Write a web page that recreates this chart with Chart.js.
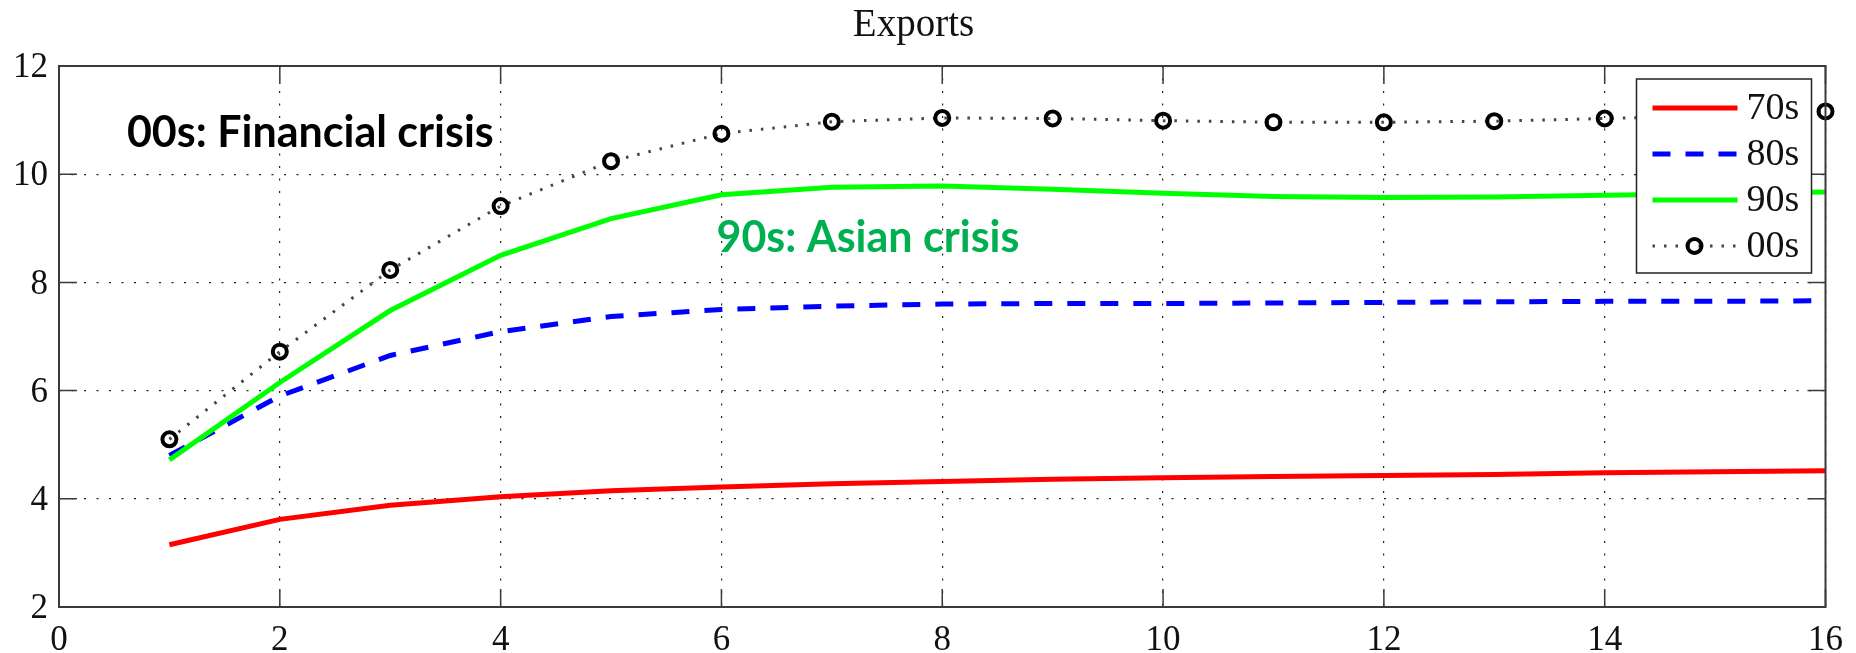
<!DOCTYPE html>
<html>
<head>
<meta charset="utf-8">
<title>Exports</title>
<script src="https://cdn.jsdelivr.net/npm/chart.js@4.4.1/dist/chart.umd.min.js"></script>
<style>
  html, body { margin: 0; padding: 0; background: #fff; }
  canvas { display: block; }
</style>
</head>
<body>
<canvas id="exportsChart" width="1856" height="653"></canvas>
<script>
// quarters after the shock
const periods = [1, 2, 3, 4, 5, 6, 7, 8, 9, 10, 11, 12, 13, 14, 15, 16];

const exports70s = [3.15, 3.62, 3.88, 4.04, 4.15, 4.22, 4.28, 4.32, 4.36, 4.39, 4.41, 4.43, 4.45, 4.48, 4.50, 4.52];
const exports80s = [4.80, 5.90, 6.65, 7.09, 7.37, 7.50, 7.56, 7.60, 7.61, 7.61, 7.62, 7.63, 7.64, 7.65, 7.65, 7.66];
const exports90s = [4.72, 6.15, 7.48, 8.50, 9.18, 9.62, 9.76, 9.78, 9.72, 9.65, 9.59, 9.57, 9.58, 9.61, 9.64, 9.67];
const exports00s = [5.10, 6.72, 8.23, 9.41, 10.24, 10.75, 10.97, 11.04, 11.03, 10.99, 10.96, 10.96, 10.98, 11.03, 11.08, 11.16];

const seriesLabels = ['70s', '80s', '90s', '00s'];
const xTicks = [0, 2, 4, 6, 8, 10, 12, 14, 16];
const yTicks = [2, 4, 6, 8, 10, 12];
const noteTexts = ['00s: Financial crisis', '90s: Asian crisis'];

const serif = '"Liberation Serif", "Times New Roman", serif';

const toPoints = (values) => periods.map((p, i) => ({ x: p, y: values[i] }));

// box around the axes plus short inward tick marks, like a matlab figure
const axesBox = {
    id: 'axesBox',
    afterDatasetsDraw(chart) {
        const { ctx, chartArea: a, scales } = chart;
        const len = 18;
        ctx.save();
        ctx.strokeStyle = '#3a3a3a';
        ctx.lineWidth = 1.5;
        ctx.beginPath();
        xTicks.forEach(v => {
            const px = scales.x.getPixelForValue(v);
            ctx.moveTo(px, a.bottom); ctx.lineTo(px, a.bottom - len);
            ctx.moveTo(px, a.top); ctx.lineTo(px, a.top + len);
        });
        yTicks.forEach(v => {
            const py = scales.y.getPixelForValue(v);
            ctx.moveTo(a.left, py); ctx.lineTo(a.left + len, py);
            ctx.moveTo(a.right, py); ctx.lineTo(a.right - len, py);
        });
        ctx.stroke();
        ctx.lineWidth = 2;
        ctx.strokeRect(a.left, a.top, a.right - a.left, a.bottom - a.top);
        ctx.restore();
    }
};

// text labels for the two crisis episodes
const crisisNotes = {
    id: 'crisisNotes',
    afterDraw(chart) {
        const { ctx, scales } = chart;
        const spots = [
            { x: 0.615, y: 10.5, color: '#000000' },
            { x: 5.955, y: 8.56, color: '#00b050' }
        ];
        ctx.save();
        ctx.font = 'bold 43px Lato';
        ctx.textBaseline = 'alphabetic';
        ctx.textAlign = 'left';
        noteTexts.forEach((t, i) => {
            ctx.fillStyle = spots[i].color;
            ctx.fillText(t, scales.x.getPixelForValue(spots[i].x), scales.y.getPixelForValue(spots[i].y));
        });
        ctx.restore();
    }
};

// boxed legend in the top right corner of the plot
const boxLegend = {
    id: 'boxLegend',
    afterDraw(chart) {
        const { ctx, chartArea: a } = chart;
        const w = 175, h = 194;
        const left = a.right - 14 - w, top = a.top + 13;
        ctx.save();
        ctx.fillStyle = '#fff';
        ctx.fillRect(left, top, w, h);
        ctx.strokeStyle = '#222';
        ctx.lineWidth = 1.5;
        ctx.strokeRect(left, top, w, h);
        chart.data.datasets.forEach((ds, i) => {
            const y = top + 29 + i * 46;
            ctx.save();
            ctx.strokeStyle = ds.borderColor;
            ctx.lineWidth = ds.borderWidth;
            ctx.setLineDash(ds.borderDash || []);
            ctx.beginPath();
            ctx.moveTo(left + 16, y);
            ctx.lineTo(left + 101, y);
            ctx.stroke();
            if (ds.pointRadius > 0) {
                ctx.setLineDash([]);
                ctx.lineWidth = ds.pointBorderWidth;
                ctx.strokeStyle = ds.pointBorderColor;
                ctx.beginPath();
                ctx.arc(left + 58, y, ds.pointRadius, 0, Math.PI * 2);
                ctx.stroke();
            }
            ctx.restore();
            ctx.fillStyle = '#111';
            ctx.font = '38px ' + serif;
            ctx.textBaseline = 'middle';
            ctx.fillText(ds.label, left + 110, y + 1);
        });
        ctx.restore();
    }
};

const gridDash = [2, 10.5];

new Chart(document.getElementById('exportsChart'), {
    type: 'line',
    data: {
        datasets: [
            {
                label: seriesLabels[0],
                data: toPoints(exports70s),
                borderColor: '#ff0000',
                borderWidth: 5,
                pointRadius: 0,
                order: 3
            },
            {
                label: seriesLabels[1],
                data: toPoints(exports80s),
                borderColor: '#0000ff',
                borderWidth: 5,
                borderDash: [18, 15],
                pointRadius: 0,
                order: 2
            },
            {
                label: seriesLabels[2],
                data: toPoints(exports90s),
                borderColor: '#00ff00',
                borderWidth: 5,
                pointRadius: 0,
                order: 1
            },
            {
                label: seriesLabels[3],
                data: toPoints(exports00s),
                borderColor: '#444444',
                borderWidth: 3,
                borderDash: [2.5, 9],
                pointRadius: 7,
                pointBorderWidth: 4,
                pointBorderColor: '#000000',
                pointBackgroundColor: 'rgba(0,0,0,0)',
                clip: false,
                order: 0
            }
        ]
    },
    options: {
        responsive: false,
        animation: false,
        layout: { padding: { left: 0, right: 29, top: 0, bottom: 0 } },
        elements: { line: { tension: 0 } },
        plugins: {
            legend: { display: false },
            tooltip: { enabled: false },
            title: {
                display: true,
                text: 'Exports',
                color: '#111',
                font: { family: serif, size: 39, weight: 'normal' },
                padding: { top: 2, bottom: 17.2 }
            }
        },
        scales: {
            x: {
                type: 'linear',
                min: 0,
                max: 16,
                afterBuildTicks: (scale) => { scale.ticks = xTicks.map(v => ({ value: v })); },
                afterFit: (scale) => { scale.height = 46; },
                grid: { color: '#222', lineWidth: 1.2, drawTicks: false },
                border: { display: false, dash: gridDash },
                ticks: {
                    color: '#111',
                    padding: 13,
                    maxRotation: 0,
                    font: { family: serif, size: 35 }
                }
            },
            y: {
                min: 2,
                max: 12,
                afterBuildTicks: (scale) => { scale.ticks = yTicks.map(v => ({ value: v })); },
                afterFit: (scale) => { scale.width = 59; },
                grid: { color: '#222', lineWidth: 1.2, drawTicks: false },
                border: { display: false, dash: gridDash },
                ticks: {
                    color: '#111',
                    padding: 11,
                    labelOffset: 2,
                    font: { family: serif, size: 35 }
                }
            }
        }
    },
    plugins: [axesBox, boxLegend, crisisNotes]
});
</script>
</body>
</html>
